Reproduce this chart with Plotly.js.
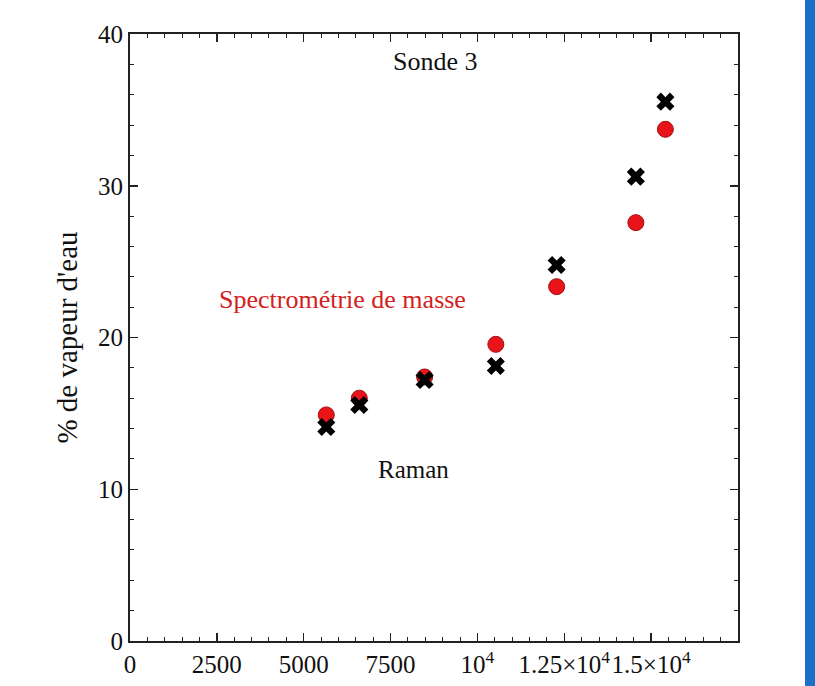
<!DOCTYPE html>
<html>
<head>
<meta charset="utf-8">
<script src="https://cdn.plot.ly/plotly-3.0.1.min.js"></script>
<style>
html,body{margin:0;padding:0;background:#fff;overflow:hidden;}
#chart{width:815px;height:686px;}
#bar{position:absolute;left:805px;top:0;width:10px;height:686px;background:#1a6fc6;}
</style>
</head>
<body>
<div id="chart"></div>
<div id="bar"></div>
<script>
const xValues = [5650, 6600, 8480, 10530, 12280, 14560, 15410];
const massSpec = [14.9, 16.0, 17.4, 19.55, 23.35, 27.57, 33.72];
const raman = [14.1, 15.55, 17.2, 18.12, 24.78, 30.6, 35.54];
const xTickVals = [0, 2500, 5000, 7500, 10000, 12500, 15000];
const xTickText = ['0', '2500', '5000', '7500', '10<sup>4</sup>', '1.25×10<sup>4</sup>', '1.5×10<sup>4</sup>'];
const yTickVals = [0, 10, 20, 30, 40];

const FONT = 'Liberation Serif, Times New Roman, serif';

const traces = [
  {
    x: xValues, y: massSpec, type: 'scatter', mode: 'markers', name: 'Spectrométrie de masse',
    marker: {symbol: 'circle', size: 16, color: '#e8141a', line: {color: '#a01010', width: 1}}
  },
  {
    x: xValues, y: raman, type: 'scatter', mode: 'markers', name: 'Raman',
    marker: {symbol: 'x', size: 16, color: '#000000', line: {width: 0}}
  }
];

const axisCommon = {
  showline: true, linecolor: '#222', linewidth: 2, mirror: 'ticks',
  ticks: 'inside', ticklen: 8, tickwidth: 1.5, tickcolor: '#222',
  showgrid: false, zeroline: false,
  tickfont: {family: FONT, size: 25, color: '#111'}
};

const layout = {
  width: 815, height: 686,
  margin: {l: 130, r: 77, t: 34, b: 45},
  paper_bgcolor: '#fff', plot_bgcolor: '#fff',
  showlegend: false,
  font: {family: FONT, color: '#111'},
  xaxis: Object.assign({}, axisCommon, {
    range: [0, 17500], tickmode: 'array', tickvals: xTickVals, ticktext: xTickText,
    tickangle: 0, automargin: false,
    minor: {dtick: 500, ticks: 'inside', ticklen: 4, tickcolor: '#222', tickwidth: 1}
  }),
  yaxis: Object.assign({}, axisCommon, {
    range: [0, 40], tickmode: 'array', tickvals: yTickVals,
    minor: {dtick: 2, ticks: 'inside', ticklen: 4, tickcolor: '#222', tickwidth: 1},
    title: {text: "% de vapeur d'eau", font: {family: FONT, size: 29, color: '#111'}, standoff: 12}
  }),
  annotations: [
    {text: 'Sonde 3', x: 0.502, y: 0.955, xref: 'paper', yref: 'paper', yanchor: 'middle', showarrow: false,
     font: {family: FONT, size: 26, color: '#111'}},
    {text: 'Spectrométrie de masse', x: 0.349, y: 0.563, xref: 'paper', yref: 'paper', yanchor: 'middle', showarrow: false,
     font: {family: FONT, size: 26, color: '#d42020'}},
    {text: 'Raman', x: 0.466, y: 0.283, xref: 'paper', yref: 'paper', yanchor: 'middle', showarrow: false,
     font: {family: FONT, size: 25, color: '#111'}}
  ]
};

Plotly.newPlot('chart', traces, layout, {displayModeBar: false, staticPlot: true});
</script>
</body>
</html>
